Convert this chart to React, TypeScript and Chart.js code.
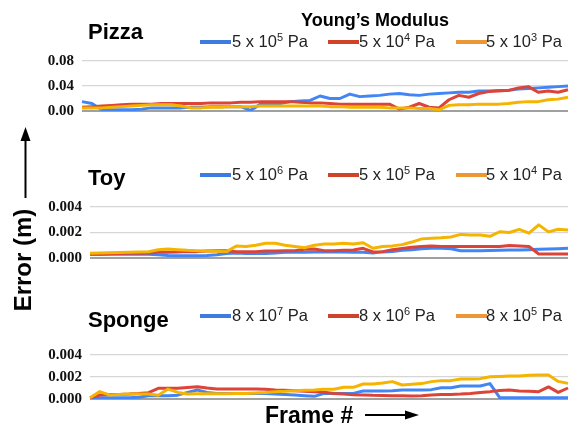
import React, { useEffect, useRef } from "react";
import { Chart, registerables } from "chart.js";

Chart.register(...registerables);

// Frame index (categories, axis hidden)
const frames: number[] = Array.from({ length: 50 }, (_, i) => i + 1);

// Pizza (m)
const pizzaBlue = [0.015,0.012,0.002,0.002,0.002,0.002,0.003,0.005,0.005,0.005,0.005,0.006,0.006,0.007,0.007,0.007,0.007,0.001,0.011,0.012,0.012,0.015,0.016,0.017,0.024,0.020,0.020,0.027,0.023,0.024,0.025,0.027,0.028,0.026,0.025,0.027,0.028,0.029,0.030,0.030,0.032,0.032,0.033,0.033,0.035,0.036,0.037,0.038,0.039,0.040];
const pizzaRed = [0.006,0.007,0.008,0.009,0.010,0.011,0.011,0.011,0.012,0.012,0.012,0.012,0.012,0.013,0.013,0.013,0.014,0.014,0.015,0.015,0.015,0.015,0.014,0.013,0.013,0.012,0.011,0.011,0.011,0.011,0.011,0.011,0.003,0.006,0.012,0.006,0.005,0.018,0.025,0.022,0.028,0.031,0.032,0.033,0.037,0.039,0.030,0.032,0.030,0.034];
const pizzaYellow = [0.005,0.005,0.005,0.006,0.007,0.008,0.009,0.010,0.010,0.010,0.008,0.005,0.005,0.006,0.006,0.007,0.007,0.007,0.008,0.008,0.008,0.008,0.008,0.008,0.008,0.007,0.007,0.006,0.006,0.006,0.006,0.005,0.005,0.005,0.004,0.004,0.002,0.009,0.010,0.010,0.011,0.011,0.011,0.012,0.014,0.015,0.015,0.018,0.019,0.022];

// Toy (m)
const toyBlue = [0.00030,0.00030,0.00030,0.00030,0.00030,0.00030,0.00030,0.00025,0.00020,0.00018,0.00018,0.00018,0.00020,0.00025,0.00035,0.00040,0.00035,0.00035,0.00035,0.00040,0.00045,0.00045,0.00046,0.00047,0.00048,0.00048,0.00048,0.00046,0.00045,0.00040,0.00048,0.00050,0.00060,0.00065,0.00073,0.00076,0.00076,0.00073,0.00057,0.00057,0.00057,0.00058,0.00060,0.00062,0.00063,0.00065,0.00068,0.00070,0.00073,0.00076];
const toyRed = [0.00030,0.00030,0.00033,0.00035,0.00037,0.00038,0.00040,0.00047,0.00045,0.00047,0.00050,0.00050,0.00055,0.00057,0.00057,0.00050,0.00050,0.00050,0.00055,0.00055,0.00057,0.00057,0.00068,0.00070,0.00057,0.00057,0.00060,0.00063,0.00076,0.00047,0.00050,0.00065,0.00075,0.00084,0.00090,0.00094,0.00090,0.00090,0.00090,0.00090,0.00090,0.00090,0.00090,0.00098,0.00095,0.00090,0.00031,0.00031,0.00031,0.00031];
const toyYellow = [0.00037,0.00039,0.00041,0.00043,0.00045,0.00047,0.00049,0.00065,0.00071,0.00065,0.00060,0.00057,0.00055,0.00052,0.00050,0.00094,0.00090,0.00100,0.00115,0.00115,0.00100,0.00090,0.00080,0.00100,0.00110,0.00110,0.00115,0.00110,0.00120,0.00076,0.00090,0.00095,0.00105,0.00125,0.00150,0.00155,0.00158,0.00165,0.00185,0.00180,0.00180,0.00170,0.00206,0.00200,0.00225,0.00195,0.00260,0.00205,0.00225,0.00220];

// Sponge (m)
const spongeBlue = [0.00005,0.00012,0.00012,0.00012,0.00012,0.00015,0.00030,0.00030,0.00030,0.00035,0.00060,0.00082,0.00060,0.00050,0.00050,0.00050,0.00050,0.00050,0.00050,0.00045,0.00040,0.00036,0.00030,0.00024,0.00051,0.00051,0.00051,0.00051,0.00073,0.00073,0.00073,0.00075,0.00082,0.00082,0.00082,0.00085,0.00103,0.00103,0.00118,0.00118,0.00118,0.00140,0.00012,0.00012,0.00012,0.00012,0.00012,0.00012,0.00012,0.00012];
const spongeRed = [0.00012,0.00036,0.00040,0.00042,0.00045,0.00050,0.00058,0.00097,0.00097,0.00097,0.00105,0.00112,0.00100,0.00091,0.00091,0.00091,0.00091,0.00091,0.00088,0.00082,0.00080,0.00075,0.00070,0.00067,0.00061,0.00050,0.00045,0.00038,0.00036,0.00033,0.00032,0.00030,0.00030,0.00028,0.00030,0.00036,0.00040,0.00042,0.00045,0.00050,0.00060,0.00067,0.00078,0.00082,0.00073,0.00070,0.00067,0.00110,0.00060,0.00100];
const spongeYellow = [0.00012,0.00067,0.00036,0.00040,0.00045,0.00045,0.00045,0.00035,0.00090,0.00060,0.00045,0.00048,0.00048,0.00048,0.00048,0.00050,0.00050,0.00055,0.00060,0.00067,0.00070,0.00075,0.00080,0.00082,0.00088,0.00088,0.00106,0.00106,0.00136,0.00136,0.00145,0.00158,0.00127,0.00133,0.00140,0.00158,0.00167,0.00167,0.00182,0.00182,0.00185,0.00203,0.00205,0.00208,0.00210,0.00215,0.00218,0.00218,0.00160,0.00142];

const LINE_COLORS = ["#4285f4", "#db4437", "#f4b400"];
const SWATCH_COLORS = ["#3d7be0", "#cf4429", "#ec9636"];

const pizzaLegend = [["5 x 10", "5"], ["5 x 10", "4"], ["5 x 10", "3"]];
const toyLegend = [["5 x 10", "6"], ["5 x 10", "5"], ["5 x 10", "4"]];
const spongeLegend = [["8 x 10", "7"], ["8 x 10", "6"], ["8 x 10", "5"]];

const SANS = '"Liberation Sans", Arial, sans-serif';
const SERIF = '"Liberation Serif", "Times New Roman", serif';

type PanelCfg = {
  series: number[][];
  max: number;
  step: number;
  decimals: number;
  axisWidth: number;
  top: number;
  height: number;
};

function Panel({ cfg }: { cfg: PanelCfg }) {
  const ref = useRef<HTMLCanvasElement | null>(null);
  useEffect(() => {
    if (!ref.current) return;
    const orders = [3, 2, 1];
    const chart = new Chart(ref.current, {
      type: "line",
      data: {
        labels: frames,
        datasets: cfg.series.map((d, k) => ({
          data: d,
          borderColor: LINE_COLORS[k],
          backgroundColor: LINE_COLORS[k],
          borderWidth: 3,
          pointRadius: 0,
          tension: 0,
          order: orders[k],
          borderJoinStyle: "round" as const,
        })),
      },
      options: {
        animation: false,
        responsive: false,
        maintainAspectRatio: false,
        layout: { padding: { left: 0, right: 2, top: 8, bottom: 8 } },
        plugins: {
          legend: { display: false },
          tooltip: { enabled: false },
          title: { display: false },
        },
        scales: {
          x: { type: "category", display: false, offset: false },
          y: {
            min: 0,
            max: cfg.max,
            afterFit: (s: any) => {
              s.width = cfg.axisWidth;
              s.paddingTop = 0;
              s.paddingBottom = 0;
            },
            border: { display: false },
            grid: {
              drawTicks: false,
              color: (c: any) =>
                c.tick && Math.abs(c.tick.value) < 1e-12 ? "#a0a0a0" : "#d6d6d6",
              lineWidth: (c: any) =>
                c.tick && Math.abs(c.tick.value) < 1e-12 ? 2 : 1.2,
            },
            ticks: {
              stepSize: cfg.step,
              padding: 8,
              color: "#111",
              font: { family: SERIF, size: 15, weight: "bold" },
              callback: (v: any, i: number) =>
                i % 2 === 0 ? Number(v).toFixed(cfg.decimals) : "",
            },
          },
        },
      },
    });
    return () => chart.destroy();
  }, []);
  return (
    <canvas
      ref={ref}
      width={570}
      height={cfg.height}
      style={{ position: "absolute", left: 0, top: cfg.top }}
    />
  );
}

function Legend({ items, y }: { items: string[][]; y: number }) {
  const swX = [200, 328, 456];
  const txX = [232, 359, 486];
  return (
    <g>
      {items.map((it, k) => (
        <g key={k}>
          <rect x={swX[k]} y={y - 7} width={31} height={4} fill={SWATCH_COLORS[k]} />
          <text x={txX[k]} y={y} fontSize={16.5} fill="#222" fontFamily={SANS}>
            {it[0]}
            <tspan dy={-6} fontSize={11}>{it[1]}</tspan>
            <tspan dy={6}> Pa</tspan>
          </text>
        </g>
      ))}
    </g>
  );
}

export default function App() {
  const panels: PanelCfg[] = [
    { series: [pizzaBlue, pizzaRed, pizzaYellow], max: 0.08, step: 0.02, decimals: 2, axisWidth: 82, top: 53, height: 66 },
    { series: [toyBlue, toyRed, toyYellow], max: 0.004, step: 0.001, decimals: 3, axisWidth: 90, top: 199, height: 67 },
    { series: [spongeBlue, spongeRed, spongeYellow], max: 0.005, step: 0.001, decimals: 3, axisWidth: 90, top: 336, height: 71 },
  ];
  return (
    <div
      style={{
        position: "absolute",
        left: 0,
        top: 0,
        width: 570,
        height: 428,
        background: "#fff",
        overflow: "hidden",
      }}
    >
      {panels.map((p, i) => (
        <Panel key={i} cfg={p} />
      ))}
      <svg
        width={570}
        height={428}
        style={{ position: "absolute", left: 0, top: 0, pointerEvents: "none" }}
        fontFamily={SANS}
      >
        <text x={375} y={26} fontSize={18} fontWeight="bold" textAnchor="middle" fill="#000">
          Young’s Modulus
        </text>
        <text x={88} y={39} fontSize={22} fontWeight="bold" fill="#000">Pizza</text>
        <text x={88} y={185} fontSize={22} fontWeight="bold" fill="#000">Toy</text>
        <text x={88} y={327} fontSize={22} fontWeight="bold" fill="#000">Sponge</text>
        <Legend items={pizzaLegend} y={47} />
        <Legend items={toyLegend} y={180} />
        <Legend items={spongeLegend} y={321} />
        <text
          transform="translate(31,260) rotate(-90)"
          fontSize={24}
          fontWeight="bold"
          textAnchor="middle"
          fill="#000"
        >
          Error (m)
        </text>
        <line x1={25.5} y1={198} x2={25.5} y2={138} stroke="#000" strokeWidth={2} />
        <polygon points="25.5,127 20.5,141 30.5,141" fill="#000" />
        <text x={265} y={423} fontSize={23} fontWeight="bold" fill="#000">Frame #</text>
        <line x1={365} y1={415} x2={407} y2={415} stroke="#000" strokeWidth={2} />
        <polygon points="419,415 405,410.5 405,419.5" fill="#000" />
      </svg>
    </div>
  );
}
